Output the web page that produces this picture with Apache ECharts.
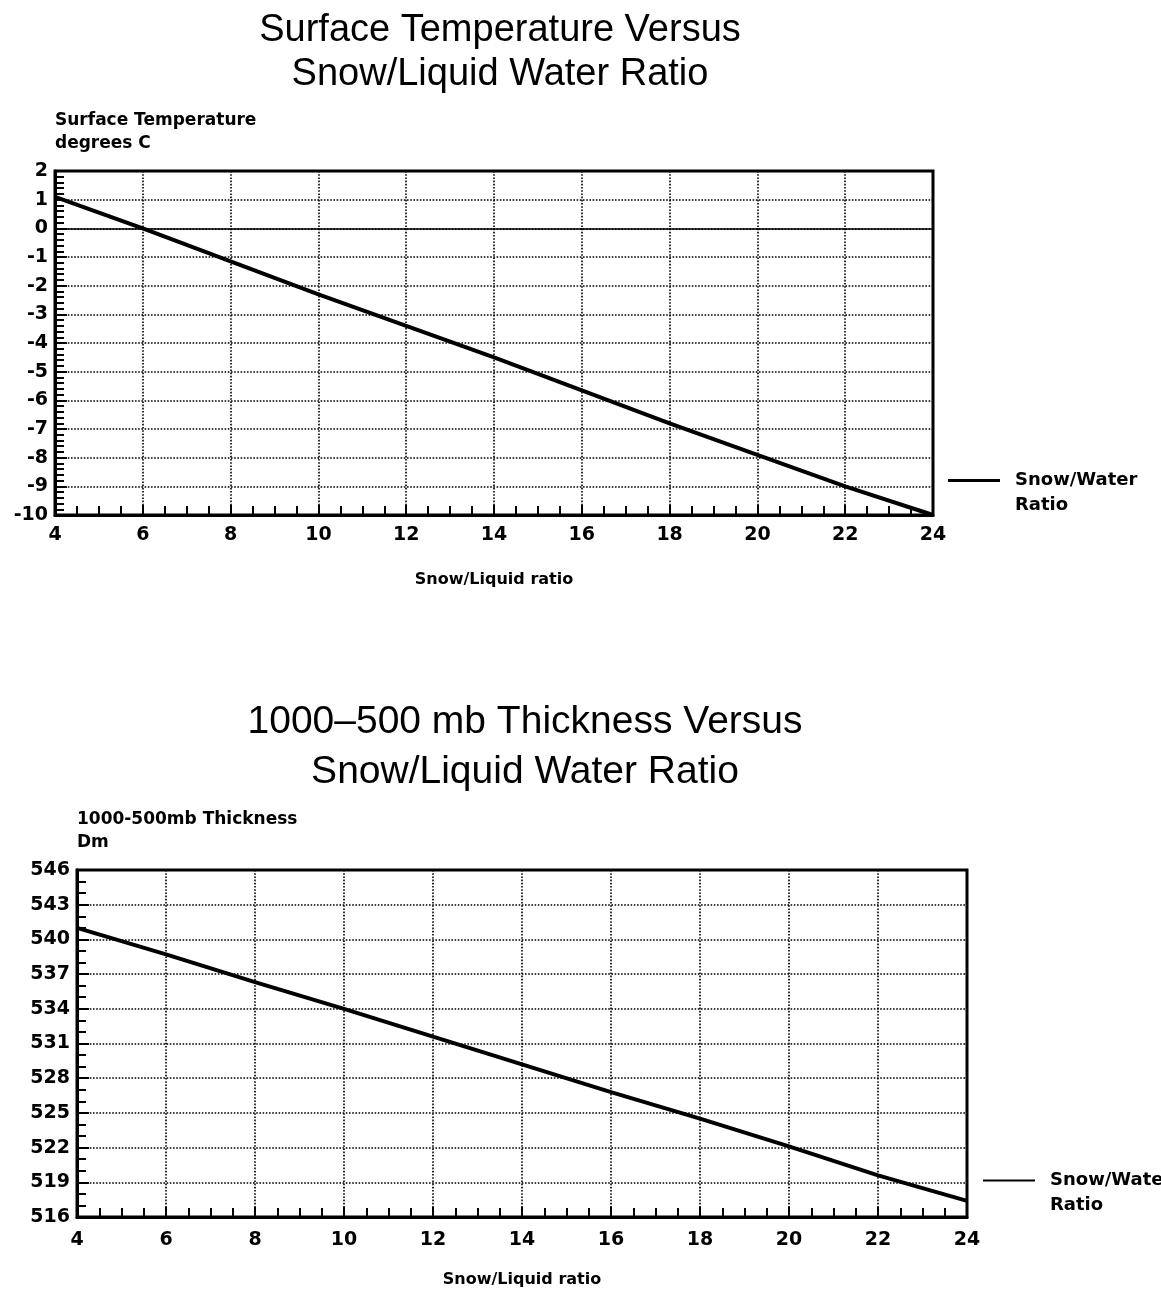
<!DOCTYPE html>
<html><head><meta charset="utf-8">
<script src="https://cdn.jsdelivr.net/npm/echarts@6/dist/echarts.min.js"></script>
<style>html,body{margin:0;padding:0;background:#fff}#c{width:1161px;height:1292px}</style>
</head><body><div id="c"></div>
<script>
const snowRatio = [4, 6, 8, 10, 12, 14, 16, 18, 20, 22, 24];
const surfaceTempC = [1.1, 0, -1.15, -2.3, -3.4, -4.5, -5.65, -6.8, -7.9, -9.0, -10.0];
const thicknessDm = [541.0, 538.7, 536.3, 534.0, 531.6, 529.2, 526.8, 524.5, 522.1, 519.6, 517.4];
const seriesName = 'Snow/Water Ratio';
const title1 = 'Surface Temperature Versus\nSnow/Liquid Water Ratio';
const title2 = '1000\u2013500 mb Thickness Versus\nSnow/Liquid Water Ratio';
const yName1 = 'Surface Temperature\ndegrees C';
const yName2 = '1000-500mb Thickness\nDm';
const xName = 'Snow/Liquid ratio';

const TFONT = 'Liberation Sans';
const FONT = 'DejaVu Sans';
const dotted = {type: 'dotted', color: '#000', width: 1.6};
const lbl = {color: '#000', fontFamily: FONT, fontWeight: 'bold', fontSize: 19};

function xAxis(gi, margin, gap) {
  return {
    gridIndex: gi, type: 'value', min: 4, max: 24, interval: 2,
    name: xName, nameLocation: 'middle', nameGap: gap,
    nameTextStyle: {color: '#000', fontFamily: FONT, fontWeight: 'bold', fontSize: 16},
    axisLine: {show: true, onZero: false, lineStyle: {color: '#000', width: 3}},
    axisTick: {show: true, inside: true, length: 10, lineStyle: {color: '#000', width: 2}},
    minorTick: {show: true, splitNumber: 4, length: 9, lineStyle: {color: '#000', width: 2}},
    axisLabel: Object.assign({margin: margin}, lbl),
    splitLine: {show: true, lineStyle: dotted}
  };
}
function yAxis(gi, min, max, interval, splitNum, name) {
  return {
    gridIndex: gi, type: 'value', min: min, max: max, interval: interval,
    name: name, nameLocation: 'end', nameGap: 16,
    nameTextStyle: {color: '#000', fontFamily: FONT, fontWeight: 'bold', fontSize: 17, align: 'left', lineHeight: 23},
    axisLine: {show: true, onZero: false, lineStyle: {color: '#000', width: 3}},
    axisTick: {show: true, inside: true, length: 12, lineStyle: {color: '#000', width: 2}},
    minorTick: {show: true, splitNumber: splitNum, length: 9, lineStyle: {color: '#000', width: 2}},
    axisLabel: Object.assign({margin: 7}, lbl),
    splitLine: {show: true, lineStyle: dotted}
  };
}
function legend(si, left, top, h) {
  return {seriesIndex: si, data: [seriesName], left: left, top: top, orient: 'vertical',
    icon: 'rect', itemWidth: 52, itemHeight: h, itemGap: 10,
    formatter: n => '\u00a0\n' + n.replace(' Ratio', '\nRatio'),
    textStyle: {fontFamily: FONT, fontWeight: 'bold', fontSize: 18, lineHeight: 25, color: '#000', padding: [0, 0, 0, 10]}};
}

const chart = echarts.init(document.getElementById('c'), null, {renderer: 'canvas'});
chart.setOption({
  animation: false,
  backgroundColor: '#fff',
  title: [
    {text: title1, left: 495, top: 4, textAlign: 'center',
     textStyle: {fontFamily: TFONT, fontWeight: 'normal', fontSize: 38, lineHeight: 44, color: '#000'}},
    {text: title2, left: 520, top: 692, textAlign: 'center',
     textStyle: {fontFamily: TFONT, fontWeight: 'normal', fontSize: 39, lineHeight: 50, color: '#000'}}
  ],
  legend: [legend(0, 943, 438, 3), legend(1, 978, 1138, 2)],
  grid: [
    {left: 55, right: 228, top: 171, bottom: 777, show: true, borderColor: '#000', borderWidth: 3, backgroundColor: 'transparent'},
    {left: 77, right: 194, top: 870, bottom: 75, show: true, borderColor: '#000', borderWidth: 3, backgroundColor: 'transparent'}
  ],
  xAxis: [xAxis(0, 11, 57), xAxis(1, 14, 55)],
  yAxis: [
    yAxis(0, -10, 2, 1, 5, yName1),
    yAxis(1, 516, 546, 3, 3, yName2)
  ],
  series: [
    {name: seriesName, type: 'line', xAxisIndex: 0, yAxisIndex: 0,
     data: snowRatio.map((x, i) => [x, surfaceTempC[i]]),
     showSymbol: false, lineStyle: {color: '#000', width: 4}, itemStyle: {color: '#000'},
     markLine: {silent: true, symbol: 'none', label: {show: false},
       lineStyle: {type: 'solid', color: '#000', width: 1.5}, data: [{yAxis: 0}]}},
    {name: seriesName, type: 'line', xAxisIndex: 1, yAxisIndex: 1,
     data: snowRatio.map((x, i) => [x, thicknessDm[i]]),
     showSymbol: false, lineStyle: {color: '#000', width: 4}, itemStyle: {color: '#000'}}
  ]
});
</script></body></html>
